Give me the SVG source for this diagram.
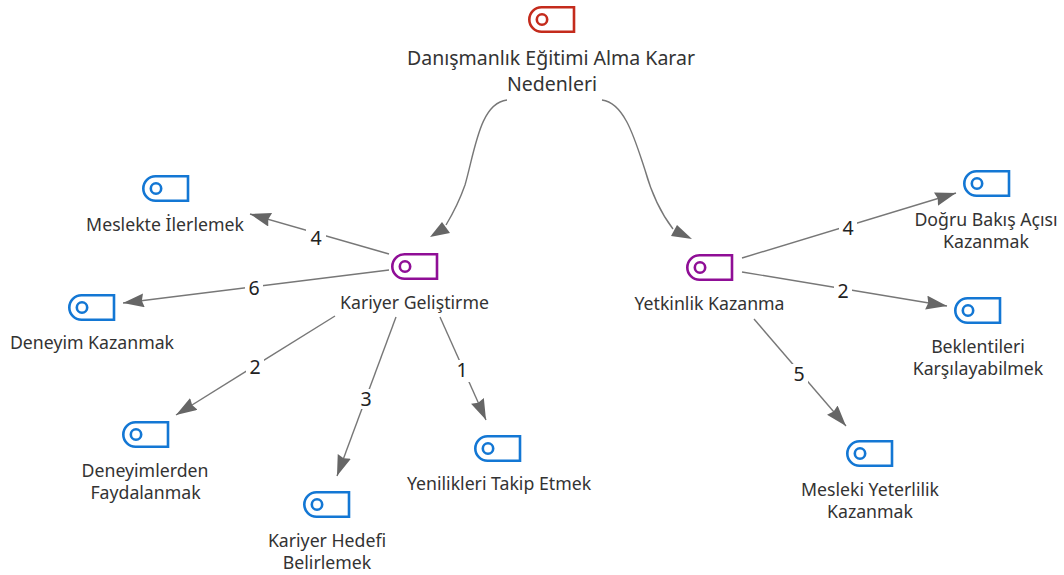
<svg xmlns="http://www.w3.org/2000/svg" width="1064" height="575" viewBox="0 0 1064 575">
<style>
.l{font-family:"Noto Sans","Open Sans","Liberation Sans",sans-serif;font-size:17.7px;fill:#333;text-anchor:middle}
.h{font-size:19.5px}
.e{font-size:19.5px;fill:#222}
.c{fill:none;stroke:#777;stroke-width:1.4}
.m{marker-end:url(#a)}
.ah{fill:#666}
.i{fill:none;stroke-width:2.6}
.r{stroke:#c42b1c}.p{stroke:#8f0e96}.b{stroke:#1377d4}
.bg{fill:#fff;stroke:none}
</style>
<defs>
<marker id="a" markerUnits="userSpaceOnUse" markerWidth="22" markerHeight="16" refX="21" refY="7" orient="auto"><path d="M0 0L21 7L0 14L2 7Z" fill="#666"/></marker>
<g id="t"><path d="M13.5 1.3H46V25.7H13.5A12.2 12.2 0 0 1 13.5 1.3Z"/><circle cx="14" cy="13.5" r="5.2"/></g>
</defs>
<rect width="1064" height="575" fill="#fff"/>
<g id="connectors">
<path class="c" d="M507 100C480 103 475 150 465 185C458 205 452 215 446 225"/>
<path class="ah" d="M430 237L442 222L450 233Z"/>
<path class="c" d="M602 100C625 103 635 140 645 170C652 195 660 212 673 229"/>
<path class="ah" d="M692 239L677 225L671 236Z"/>
<path class="c m" d="M389 254L250 214"/>
<path class="c m" d="M389 270L123 303"/>
<path class="c m" d="M335 316L176 415"/>
<path class="c m" d="M396 317L337 476"/>
<path class="c m" d="M440 317L486 420"/>
<path class="c m" d="M742 258L956 193"/>
<path class="c m" d="M742 272L947 306"/>
<path class="c m" d="M754 319L846 426"/>
<rect class="bg" x="306" y="228" width="20" height="20"/><text class="l e" x="316" y="245">4</text>
<rect class="bg" x="245" y="277" width="18" height="20"/><text class="l e" x="254" y="295">6</text>
<rect class="bg" x="246" y="357" width="18" height="20"/><text class="l e" x="255" y="374">2</text>
<rect class="bg" x="357" y="389" width="18" height="20"/><text class="l e" x="366" y="406">3</text>
<rect class="bg" x="453" y="360" width="18" height="22"/><text class="l e" x="462" y="377">1</text>
<rect class="bg" x="839" y="218" width="18" height="20"/><text class="l e" x="848" y="235">4</text>
<rect class="bg" x="834" y="281" width="18" height="20"/><text class="l e" x="843" y="298">2</text>
<rect class="bg" x="790" y="364" width="18" height="20"/><text class="l e" x="799" y="381">5</text>
</g>
<g id="n1"><use href="#t" class="i r" x="528" y="6"/><text class="l h" x="551" y="64.5">Danışmanlık Eğitimi Alma Karar</text><text class="l h" x="552" y="90.5">Nedenleri</text></g>
<g id="n2"><use href="#t" class="i p" x="391" y="253"/><text class="l" x="414.5" y="309">Kariyer Geliştirme</text></g>
<g id="n3"><use href="#t" class="i p" x="686" y="254"/><text class="l" x="709.5" y="310">Yetkinlik Kazanma</text></g>
<g id="n4"><use href="#t" class="i b" x="142" y="175"/><text class="l" x="165" y="231">Meslekte İlerlemek</text></g>
<g id="n5"><use href="#t" class="i b" x="68" y="294"/><text class="l" x="92" y="349">Deneyim Kazanmak</text></g>
<g id="n6"><use href="#t" class="i b" x="122" y="421"/><text class="l" x="145" y="477">Deneyimlerden</text><text class="l" x="145.5" y="499">Faydalanmak</text></g>
<g id="n7"><use href="#t" class="i b" x="303" y="491"/><text class="l" x="327" y="547">Kariyer Hedefi</text><text class="l" x="327" y="569">Belirlemek</text></g>
<g id="n8"><use href="#t" class="i b" x="474" y="435"/><text class="l" x="499" y="490">Yenilikleri Takip Etmek</text></g>
<g id="n9"><use href="#t" class="i b" x="963" y="170"/><text class="l" x="986" y="226">Doğru Bakış Açısı</text><text class="l" x="986" y="248">Kazanmak</text></g>
<g id="n10"><use href="#t" class="i b" x="954" y="297"/><text class="l" x="978" y="353">Beklentileri</text><text class="l" x="978" y="375">Karşılayabilmek</text></g>
<g id="n11"><use href="#t" class="i b" x="846" y="440"/><text class="l" x="870" y="496">Mesleki Yeterlilik</text><text class="l" x="870" y="518">Kazanmak</text></g>
</svg>
